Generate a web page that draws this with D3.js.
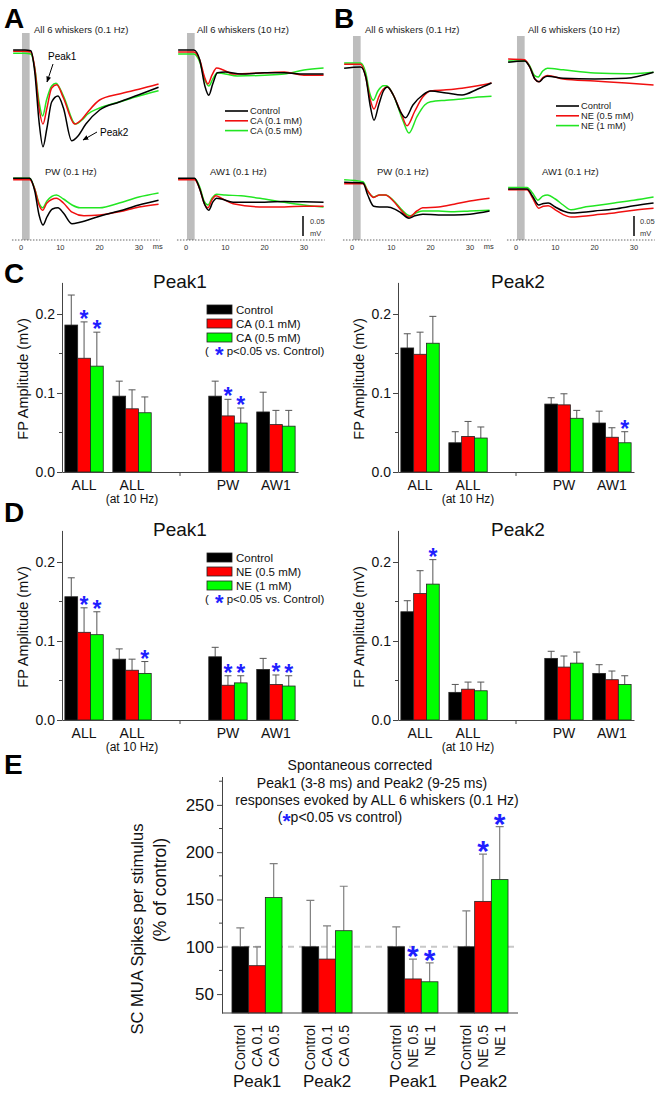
<!DOCTYPE html>
<html>
<head>
<meta charset="utf-8">
<script src="https://cdn.jsdelivr.net/npm/d3@7"></script>
<style>
  body { margin: 0; background: #fff; }
  svg { display: block; font-family: "Liberation Sans", Arial, Helvetica, sans-serif; }
</style>
</head>
<body>
<svg id="fig" width="656" height="1093"></svg>
<script>
// ---------- data: field potential traces, [ms, mV] ----------
const a1Control = [[-2,0.005],[1,0.005],[2.5,0.003],[3.5,-0.05],[4.6,-0.175],[5.6,-0.237],[6.6,-0.19],[7.8,-0.125],[9.4,-0.11],[10.8,-0.14],[12.9,-0.222],[14.5,-0.21],[16.5,-0.18],[20,-0.145],[25,-0.125],[30,-0.107],[35,-0.088]];
const a1CA01 = [[-2,0.002],[1,0.002],[2.5,0],[3.5,-0.04],[4.6,-0.14],[5.6,-0.18],[6.6,-0.14],[7.8,-0.09],[9.1,-0.082],[10.8,-0.115],[13.7,-0.18],[15.5,-0.168],[17,-0.15],[20,-0.12],[25,-0.105],[30,-0.093],[35,-0.08]];
const a1CA05 = [[-2,-0.003],[1,-0.003],[2.5,-0.005],[3.5,-0.04],[4.6,-0.125],[5.5,-0.16],[6.5,-0.12],[7.8,-0.085],[8.9,-0.078],[10.8,-0.11],[13.9,-0.18],[15.5,-0.17],[17,-0.155],[20,-0.14],[25,-0.125],[30,-0.11],[35,-0.097]];

const a2Control = [[-2,0.005],[2,0.005],[3.5,-0.02],[4.8,-0.085],[5.8,-0.108],[6.8,-0.08],[8,-0.052],[10,-0.05],[14,-0.055],[20,-0.052],[25,-0.052],[30,-0.055],[35,-0.055]];
const a2CA01 = [[-2,0],[2,0],[3.5,-0.02],[4.8,-0.065],[5.6,-0.08],[6.6,-0.058],[7.8,-0.04],[9.5,-0.045],[12,-0.055],[20,-0.052],[25,-0.05],[30,-0.058],[35,-0.058]];
const a2CA05 = [[-2,-0.005],[2,-0.005],[3.5,-0.025],[4.8,-0.07],[5.8,-0.085],[6.8,-0.068],[8,-0.052],[10,-0.055],[13,-0.06],[20,-0.058],[25,-0.055],[30,-0.045],[35,-0.04]];

const a3Control = [[-2,0.002],[2.2,0.002],[3.5,-0.03],[4.6,-0.09],[5.6,-0.115],[6.6,-0.095],[8,-0.075],[9.4,-0.072],[10.8,-0.085],[13,-0.112],[15,-0.108],[20,-0.093],[25,-0.08],[30,-0.065],[35,-0.053]];
const a3CA01 = [[-2,-0.002],[2.2,-0.002],[3.5,-0.025],[4.6,-0.065],[5.5,-0.078],[6.6,-0.06],[9,-0.048],[10.8,-0.06],[13,-0.083],[16,-0.092],[20,-0.09],[25,-0.082],[30,-0.07],[35,-0.063]];
const a3CA05 = [[-2,0.002],[2.2,0.002],[3.5,-0.025],[4.6,-0.06],[5.5,-0.072],[6.6,-0.055],[9,-0.04],[10.8,-0.05],[13,-0.065],[15,-0.072],[20,-0.072],[25,-0.06],[30,-0.045],[35,-0.035]];

const a4Control = [[-2,0.002],[2.2,0.002],[3.5,-0.025],[4.8,-0.065],[5.8,-0.078],[6.8,-0.058],[7.8,-0.048],[9,-0.05],[12,-0.058],[20,-0.058],[25,-0.056],[30,-0.057],[35,-0.058]];
const a4CA01 = [[-2,-0.002],[2.2,-0.002],[3.5,-0.025],[4.6,-0.06],[5.6,-0.072],[6.6,-0.052],[7.6,-0.042],[9,-0.048],[12,-0.062],[20,-0.07],[25,-0.07],[30,-0.068],[35,-0.068]];
const a4CA05 = [[-2,0],[2.2,0],[3.5,-0.02],[4.6,-0.055],[5.6,-0.065],[6.6,-0.048],[7.8,-0.038],[10,-0.04],[14,-0.042],[20,-0.05],[25,-0.058],[30,-0.065],[35,-0.07]];

const b1Control = [[-2,-0.008],[2.2,-0.005],[3.5,-0.03],[4.6,-0.1],[5.6,-0.138],[6.8,-0.1],[8,-0.065],[9,-0.055],[10.5,-0.075],[12.5,-0.12],[13.6,-0.132],[15.5,-0.1],[18,-0.075],[20,-0.065],[24,-0.07],[28,-0.075],[32,-0.06],[35.5,-0.045]];
const b1NE05 = [[-2,0.002],[2.2,0.002],[3.5,-0.03],[4.6,-0.085],[5.6,-0.11],[6.8,-0.08],[8,-0.06],[9,-0.055],[10.5,-0.075],[12.5,-0.12],[14,-0.152],[16,-0.115],[18,-0.08],[20,-0.065],[24,-0.062],[28,-0.058],[32,-0.052],[35.5,-0.045]];
const b1NE1 = [[-2,0.005],[2.2,0.005],[3.5,-0.02],[4.5,-0.07],[5.4,-0.088],[6.6,-0.065],[8,-0.052],[8.8,-0.052],[10.5,-0.075],[13,-0.14],[14.5,-0.17],[16.5,-0.13],[18.5,-0.1],[20,-0.092],[24,-0.088],[28,-0.085],[32,-0.08],[35.5,-0.078]];

const b2Control = [[-2,-0.003],[2.2,0],[3.5,-0.015],[4.8,-0.045],[5.9,-0.052],[7,-0.042],[8,-0.038],[12,-0.043],[20,-0.045],[28,-0.043],[35,-0.028]];
const b2NE05 = [[-2,0.005],[2.2,0.003],[3.5,-0.015],[4.8,-0.045],[5.8,-0.052],[7,-0.04],[8,-0.036],[12,-0.045],[20,-0.05],[28,-0.055],[35,-0.06]];
const b2NE1 = [[-2,0],[2.2,0],[3.5,-0.012],[4.6,-0.035],[5.6,-0.04],[6.8,-0.025],[8,-0.018],[12,-0.022],[20,-0.03],[28,-0.032],[35,-0.028]];

const b3Control = [[-2,0.002],[2.8,0],[4,-0.03],[5.5,-0.058],[7,-0.06],[9,-0.06],[11,-0.066],[12.5,-0.075],[14.5,-0.088],[16,-0.082],[18,-0.078],[22,-0.08],[26,-0.08],[30,-0.078],[35,-0.07]];
const b3NE05 = [[-2,-0.002],[2.8,-0.002],[4,-0.02],[5.5,-0.036],[7,-0.03],[8.5,-0.03],[10.5,-0.045],[12.5,-0.068],[14.5,-0.085],[16.5,-0.07],[18,-0.062],[22,-0.06],[26,-0.053],[30,-0.045],[35,-0.038]];
const b3NE1 = [[-2,0.008],[2.8,0.003],[4,-0.02],[5.5,-0.035],[7,-0.03],[8.5,-0.03],[10.5,-0.043],[12.5,-0.065],[14.8,-0.082],[16.5,-0.074],[18,-0.07],[22,-0.07],[26,-0.072],[30,-0.07],[35,-0.068]];

const b4Control = [[-2,0],[2.8,0],[4.2,-0.018],[5.8,-0.04],[7,-0.036],[8.2,-0.035],[10,-0.045],[12,-0.055],[14,-0.06],[17,-0.058],[20,-0.055],[25,-0.05],[30,-0.042],[35,-0.035]];
const b4NE05 = [[-2,-0.002],[2.8,-0.002],[4.2,-0.022],[5.8,-0.048],[7,-0.043],[8.2,-0.042],[10,-0.052],[12,-0.064],[14,-0.07],[17,-0.068],[20,-0.065],[25,-0.06],[30,-0.053],[35,-0.048]];
const b4NE1 = [[-2,0.004],[2.8,0.004],[4.2,-0.01],[5.6,-0.028],[6.8,-0.018],[8,-0.015],[10,-0.025],[12,-0.04],[14,-0.052],[17,-0.046],[20,-0.042],[25,-0.035],[30,-0.028],[35,-0.02]];

const timeTicks = [0, 10, 20, 30];
const caNames = ["Control", "CA (0.1 mM)", "CA (0.5 mM)"];
const neNames = ["Control", "NE (0.5 mM)", "NE (1 mM)"];

// ---------- data: FP amplitude bars (mV), groups x [control, low, high] ----------
const fpSlots = ["ALL", "ALL10", "gap", "PW", "AW1"];
const fpGroups = ["ALL", "ALL10", "PW", "AW1"];
const fpLabels = ["ALL", "ALL", "PW", "AW1"];
const fpSubLabels = ["", "(at 10 Hz)", "", ""];
const fpTicks = [0, 0.1, 0.2];
const fpMinorTicks = [0.05, 0.15];

const cPeak1Mean = [[0.186,0.144,0.134],[0.096,0.080,0.075],[0.096,0.071,0.062],[0.076,0.060,0.058]];
const cPeak1Err  = [[0.038,0.046,0.043],[0.019,0.024,0.020],[0.019,0.021,0.019],[0.025,0.018,0.020]];
const cPeak1Sig  = [[0,1,1],[0,0,0],[0,1,1],[0,0,0]];
const cPeak2Mean = [[0.157,0.149,0.163],[0.037,0.045,0.043],[0.086,0.085,0.068],[0.062,0.044,0.037]];
const cPeak2Err  = [[0.018,0.028,0.034],[0.014,0.019,0.014],[0.008,0.014,0.010],[0.015,0.012,0.014]];
const cPeak2Sig  = [[0,0,0],[0,0,0],[0,0,0],[0,0,1]];

const dPeak1Mean = [[0.156,0.111,0.108],[0.077,0.063,0.059],[0.080,0.044,0.047],[0.064,0.045,0.043]];
const dPeak1Err  = [[0.024,0.031,0.029],[0.013,0.014,0.015],[0.012,0.012,0.009],[0.014,0.012,0.013]];
const dPeak1Sig  = [[0,1,1],[0,0,1],[0,1,1],[0,1,1]];
const dPeak2Mean = [[0.137,0.160,0.172],[0.035,0.039,0.037],[0.078,0.067,0.072],[0.059,0.051,0.045]];
const dPeak2Err  = [[0.014,0.029,0.031],[0.010,0.009,0.011],[0.009,0.014,0.014],[0.011,0.011,0.011]];
const dPeak2Sig  = [[0,0,1],[0,0,0],[0,0,0],[0,0,0]];

// ---------- data: MUA spikes (% of control) ----------
const eHalves = ["CA", "CA", "NE", "NE"];
const ePeaks = ["Peak1", "Peak2", "Peak1", "Peak2"];
const eBarLabels = [["Control","CA 0.1","CA 0.5"],["Control","CA 0.1","CA 0.5"],["Control","NE 0.5","NE 1"],["Control","NE 0.5","NE 1"]];
const eMean = [[100,80,152],[100,87,117],[100,66,63],[100,148,171]];
const eErr  = [[20,20,36],[49,35,47],[21,21,20],[38,50,56]];
const eSig  = [[0,0,0],[0,0,0],[0,1,1],[0,1,1]];
const eTicks = [50, 100, 150, 200, 250];
const eMinorTicks = [75, 125, 175, 225, 275];
const eTitle = ["Spontaneous corrected", "Peak1 (3-8 ms) and Peak2 (9-25 ms)", "responses evoked by ALL 6 whiskers (0.1 Hz)"];

// ---------- style ----------
const traceColors = ["#000000", "#f01010", "#22e622"];
const barColors = ["#000000", "#ff0000", "#00ff00"];
const starBlue = "#1f1fff";
const condIdx = [0, 1, 2];

const svg = d3.select("#fig");

svg.append("defs").append("marker")
  .attr("id", "arrow").attr("viewBox", "0 0 10 10")
  .attr("refX", 9).attr("refY", 5)
  .attr("markerWidth", 6).attr("markerHeight", 6)
  .attr("orient", "auto")
  .append("path").attr("d", "M0,1L10,5L0,9Z").attr("fill", "#000");

// panel letters
[["A", 4, 28], ["B", 334, 28], ["C", 4, 283], ["D", 4, 522], ["E", 4, 774]].forEach(p => {
  svg.append("text").attr("x", p[1]).attr("y", p[2]).text(p[0])
    .attr("font-size", 28).attr("font-weight", "bold");
});

// ---------- traces ----------
const subplots = [
  { x0: 21, base: 52, title: "All 6 whiskers (0.1 Hz)", tx: 34, ty: 33, traces: [a1Control, a1CA01, a1CA05] },
  { x0: 186, base: 52, title: "All 6 whiskers (10 Hz)", tx: 197, ty: 33, traces: [a2Control, a2CA01, a2CA05] },
  { x0: 21, base: 179, title: "PW (0.1 Hz)", tx: 45, ty: 175, traces: [a3Control, a3CA01, a3CA05] },
  { x0: 186, base: 179, title: "AW1 (0.1 Hz)", tx: 210, ty: 175, traces: [a4Control, a4CA01, a4CA05] },
  { x0: 352, base: 65, title: "All 6 whiskers (0.1 Hz)", tx: 365, ty: 33, traces: [b1Control, b1NE05, b1NE1] },
  { x0: 516, base: 61, title: "All 6 whiskers (10 Hz)", tx: 528, ty: 33, traces: [b2Control, b2NE05, b2NE1] },
  { x0: 352, base: 183, title: "PW (0.1 Hz)", tx: 377, ty: 175, traces: [b3Control, b3NE05, b3NE1] },
  { x0: 516, base: 189, title: "AW1 (0.1 Hz)", tx: 542, ty: 175, traces: [b4Control, b4NE05, b4NE1] }
];
const pxPerMs = 3.93;

// stimulus bars and time axes per column
const columns = [
  { x0: 21, top: 33, ms: true }, { x0: 186, top: 33, ms: false },
  { x0: 352, top: 36, ms: true }, { x0: 516, top: 36, ms: false }
];
columns.forEach(c => {
  const x = d3.scaleLinear().domain([0, 30]).range([c.x0, c.x0 + 30 * pxPerMs]);
  svg.append("rect").attr("x", x(0.25)).attr("width", x(2.2) - x(0.25))
    .attr("y", c.top).attr("height", 240 - c.top).attr("fill", "#bdbdbd");
  svg.append("line").attr("x1", x(-2.3)).attr("x2", x(35.3)).attr("y1", 240).attr("y2", 240)
    .attr("stroke", "#666").attr("stroke-width", 1).attr("stroke-dasharray", "1.5,1.5");
  svg.append("g").selectAll("text").data(timeTicks).join("text")
    .attr("x", d => x(d)).attr("y", 250).attr("text-anchor", "middle")
    .attr("font-size", 7.5).attr("fill", "#333").text(d => d);
  if (c.ms) {
    svg.append("text").attr("x", x(33.5)).attr("y", 249).attr("font-size", 7.5)
      .attr("fill", "#333").text("ms");
  }
});

subplots.forEach(sp => {
  const x = d3.scaleLinear().domain([0, 30]).range([sp.x0, sp.x0 + 30 * pxPerMs]);
  const y = d3.scaleLinear().domain([0, -0.05]).range([sp.base, sp.base + 20]);
  const line = d3.line().x(d => x(d[0])).y(d => y(d[1])).curve(d3.curveMonotoneX);
  svg.append("text").attr("x", sp.tx).attr("y", sp.ty).attr("font-size", 9.5).attr("fill", "#222").text(sp.title);
  [2, 1, 0].forEach(i => {
    svg.append("path").datum(sp.traces[i]).attr("d", line)
      .attr("fill", "none").attr("stroke", traceColors[i]).attr("stroke-width", 1.5);
  });
});

// trace legends
function traceLegend(x0, y0, names) {
  names.forEach((n, i) => {
    const yy = y0 + i * 9.8;
    svg.append("line").attr("x1", x0).attr("x2", x0 + 23).attr("y1", yy).attr("y2", yy)
      .attr("stroke", traceColors[i]).attr("stroke-width", 1.6);
    svg.append("text").attr("x", x0 + 25).attr("y", yy).attr("dy", "0.35em")
      .attr("font-size", 9.3).attr("fill", "#222").text(n);
  });
}
traceLegend(225, 111, caNames);
traceLegend(556, 106, neNames);

// peak annotations
svg.append("text").attr("x", 48).attr("y", 60).attr("font-size", 10).text("Peak1");
svg.append("line").attr("x1", 53).attr("y1", 64).attr("x2", 47).attr("y2", 82)
  .attr("stroke", "#000").attr("stroke-width", 1).attr("marker-end", "url(#arrow)");
svg.append("text").attr("x", 100).attr("y", 136).attr("font-size", 10).text("Peak2");
svg.append("line").attr("x1", 97).attr("y1", 132).attr("x2", 83).attr("y2", 140)
  .attr("stroke", "#000").attr("stroke-width", 1).attr("marker-end", "url(#arrow)");

// scale bars
[[303, 310], [634, 640]].forEach(s => {
  const y = d3.scaleLinear().domain([0, 0.05]).range([236, 216]);
  svg.append("line").attr("x1", s[0]).attr("x2", s[0]).attr("y1", y(0)).attr("y2", y(0.05))
    .attr("stroke", "#000").attr("stroke-width", 1.5);
  svg.append("text").attr("x", s[1]).attr("y", 224).attr("font-size", 7.5).attr("fill", "#333").text("0.05");
  svg.append("text").attr("x", s[1]).attr("y", 236).attr("font-size", 7.5).attr("fill", "#333").text("mV");
});

// ---------- FP amplitude bar panels ----------
function starText(sel, fs) {
  sel.attr("text-anchor", "middle").attr("font-size", fs).attr("font-weight", "bold")
    .attr("fill", starBlue).text("*");
}

function fpPanel(ox, oy, means, errs, sig, title, titleX, legendNames) {
  const g = svg.append("g");
  const x = d3.scaleBand().domain(fpSlots).range([ox, ox + 236]).paddingInner(0.2).paddingOuter(0.06);
  const xc = d3.scaleBand().domain(condIdx).range([0, x.bandwidth()]);
  const y = d3.scaleLinear().domain([0, 0.24]).range([oy, oy - 0.24 * 790]);
  const rows = [];
  fpGroups.forEach((grp, i) => condIdx.forEach(j =>
    rows.push({ grp, j, m: means[i][j], e: errs[i][j], s: sig[i][j] })));
  const cx = d => x(d.grp) + xc(d.j) + xc.bandwidth() / 2;

  g.selectAll(".err").data(rows).join("path")
    .attr("d", d => `M${cx(d)},${y(d.m)}V${y(d.m + d.e)}M${cx(d) - 3.5},${y(d.m + d.e)}H${cx(d) + 3.5}`)
    .attr("stroke", "#555").attr("stroke-width", 1).attr("fill", "none");
  g.selectAll(".bar").data(rows).join("rect")
    .attr("x", d => x(d.grp) + xc(d.j)).attr("width", xc.bandwidth())
    .attr("y", d => y(d.m)).attr("height", d => y(0) - y(d.m))
    .attr("fill", d => barColors[d.j]).attr("stroke", "#222").attr("stroke-width", 0.8);
  g.selectAll(".star").data(rows.filter(d => d.s)).join("text")
    .attr("x", cx).attr("y", d => y(d.m + d.e) + 5).call(starText, 23);

  const ya = g.append("g").attr("transform", `translate(${ox},0)`)
    .call(d3.axisLeft(y).tickValues(fpTicks).tickSize(5).tickSizeOuter(0).tickFormat(d3.format(".1f")));
  ya.selectAll("text").attr("font-size", 14).attr("fill", "#111")
    .attr("font-family", "Liberation Sans, Arial, sans-serif").attr("x", -7);
  ya.selectAll("path,line").attr("stroke", "#444");
  g.selectAll(".minor").data(fpMinorTicks).join("line")
    .attr("x1", ox - 3).attr("x2", ox).attr("y1", d => y(d)).attr("y2", d => y(d)).attr("stroke", "#444");

  const xa = g.append("g").attr("transform", `translate(0,${oy})`)
    .call(d3.axisBottom(x).tickValues(["gap"]).tickFormat("").tickSize(4).tickSizeOuter(0));
  xa.selectAll("path,line").attr("stroke", "#444");

  fpGroups.forEach((grp, i) => {
    const c = x(grp) + x.bandwidth() / 2;
    g.append("text").attr("x", c).attr("y", oy + 18).attr("text-anchor", "middle")
      .attr("font-size", 14).attr("fill", "#111").text(fpLabels[i]);
    if (fpSubLabels[i]) {
      g.append("text").attr("x", c).attr("y", oy + 31).attr("text-anchor", "middle")
        .attr("font-size", 12).attr("fill", "#111").text(fpSubLabels[i]);
    }
  });

  g.append("text").attr("x", titleX).attr("y", oy - 184).attr("text-anchor", "middle")
    .attr("font-size", 19).attr("fill", "#111").text(title);
  g.append("text").attr("transform", `translate(${ox - 39},${oy - 93}) rotate(-90)`)
    .attr("text-anchor", "middle").attr("dy", "0.35em").attr("font-size", 14.5)
    .attr("fill", "#111").text("FP Amplitude (mV)");

  if (legendNames) {
    const lx = 207, ly = oy - 167;
    legendNames.forEach((n, i) => {
      g.append("rect").attr("x", lx).attr("y", ly + i * 14).attr("width", 25).attr("height", 9)
        .attr("fill", barColors[i]).attr("stroke", "#222").attr("stroke-width", 0.8);
      g.append("text").attr("x", lx + 29).attr("y", ly + i * 14 + 9)
        .attr("font-size", 11.5).attr("fill", "#111").text(n);
    });
    const t = g.append("text").attr("x", lx - 2).attr("y", ly + 50).attr("font-size", 11.5).attr("fill", "#111");
    t.append("tspan").text("(");
    t.append("tspan").attr("dy", 7).attr("font-size", 22).attr("font-weight", "bold").attr("fill", starBlue).text(" *");
    t.append("tspan").attr("dy", -7).text(" p<0.05 vs. Control)");
  }
}

fpPanel(62, 472, cPeak1Mean, cPeak1Err, cPeak1Sig, "Peak1", 180, caNames);
fpPanel(398, 472, cPeak2Mean, cPeak2Err, cPeak2Sig, "Peak2", 518, null);
fpPanel(62, 720, dPeak1Mean, dPeak1Err, dPeak1Sig, "Peak1", 180, neNames);
fpPanel(398, 720, dPeak2Mean, dPeak2Err, dPeak2Sig, "Peak2", 518, null);

// ---------- E: MUA ----------
(function () {
  const g = svg.append("g");
  const ox = 222, oy = 1013;
  const y = d3.scaleLinear().domain([30, 280]).range([oy, oy - 250 * 0.946]);
  const xh = d3.scaleBand().domain(["CA", "NE"]).range([ox, 518]).paddingInner(0.23).paddingOuter(0.064);
  const xp = d3.scaleBand().domain(["Peak1", "Peak2"]).range([0, xh.bandwidth()]).paddingInner(0.2857);
  const xc = d3.scaleBand().domain(condIdx).range([0, xp.bandwidth()]);
  const gx = i => xh(eHalves[i]) + xp(ePeaks[i]);
  const rows = [];
  eMean.forEach((grp, i) => condIdx.forEach(j =>
    rows.push({ i, j, m: eMean[i][j], e: eErr[i][j], s: eSig[i][j], lab: eBarLabels[i][j] })));
  const cx = d => gx(d.i) + xc(d.j) + xc.bandwidth() / 2;

  g.append("line").attr("x1", ox).attr("x2", 518).attr("y1", y(100)).attr("y2", y(100))
    .attr("stroke", "#c8c8c8").attr("stroke-width", 2).attr("stroke-dasharray", "6,5");

  g.selectAll(".err").data(rows).join("path")
    .attr("d", d => `M${cx(d)},${y(d.m)}V${y(d.m + d.e)}M${cx(d) - 4},${y(d.m + d.e)}H${cx(d) + 4}`)
    .attr("stroke", "#808080").attr("stroke-width", 1.2).attr("fill", "none");
  g.selectAll(".bar").data(rows).join("rect")
    .attr("x", d => gx(d.i) + xc(d.j)).attr("width", xc.bandwidth())
    .attr("y", d => y(d.m)).attr("height", d => y(30) - y(d.m))
    .attr("fill", d => barColors[d.j]).attr("stroke", "#222").attr("stroke-width", 0.8);
  g.selectAll(".star").data(rows.filter(d => d.s)).join("text")
    .attr("x", cx).attr("y", d => y(d.m + d.e) + 7).call(starText, 30);

  const ya = g.append("g").attr("transform", `translate(${ox},0)`)
    .call(d3.axisLeft(y).tickValues(eTicks).tickSize(5).tickSizeOuter(0));
  ya.selectAll("text").attr("font-size", 17).attr("fill", "#111")
    .attr("font-family", "Liberation Sans, Arial, sans-serif").attr("x", -8);
  ya.selectAll("path,line").attr("stroke", "#444");
  g.selectAll(".minor").data(eMinorTicks).join("line")
    .attr("x1", ox - 3).attr("x2", ox).attr("y1", d => y(d)).attr("y2", d => y(d)).attr("stroke", "#444");
  g.append("line").attr("x1", ox).attr("x2", 518).attr("y1", oy).attr("y2", oy).attr("stroke", "#444");

  g.selectAll(".blab").data(rows).join("text")
    .attr("transform", d => `translate(${cx(d)},${oy + 12}) rotate(-90)`)
    .attr("text-anchor", "end").attr("dy", "0.35em").attr("font-size", 14).attr("fill", "#111")
    .text(d => d.lab);
  ePeaks.forEach((p, i) => {
    g.append("text").attr("x", gx(i) + xp.bandwidth() / 2).attr("y", 1087).attr("text-anchor", "middle")
      .attr("font-size", 17).attr("fill", "#111").text(p);
  });

  g.append("text").attr("transform", "translate(137,929) rotate(-90)").attr("text-anchor", "middle")
    .attr("dy", "0.35em").attr("font-size", 16.5).attr("fill", "#111").text("SC MUA Spikes per stimulus");
  g.append("text").attr("transform", "translate(160,890) rotate(-90)").attr("text-anchor", "middle")
    .attr("dy", "0.35em").attr("font-size", 17.5).attr("fill", "#111").text("(% of control)");

  const titleCenters = [360, 372, 377];
  eTitle.forEach((t, i) => {
    g.append("text").attr("x", titleCenters[i]).attr("y", 770 + i * 17.5).attr("text-anchor", "middle")
      .attr("font-size", 14).attr("fill", "#111").text(t);
  });
  const t4 = g.append("text").attr("x", 340).attr("y", 822).attr("text-anchor", "middle")
    .attr("font-size", 14).attr("fill", "#111");
  t4.append("tspan").text("(");
  t4.append("tspan").attr("dy", 6).attr("font-size", 21).attr("font-weight", "bold").attr("fill", starBlue).text("*");
  t4.append("tspan").attr("dy", -6).text("p<0.05 vs control)");
})();
</script>
</body>
</html>
